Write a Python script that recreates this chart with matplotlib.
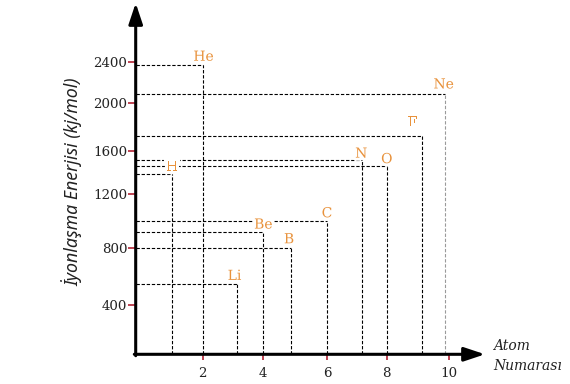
import numpy as np
import matplotlib
matplotlib.use("Agg")
import matplotlib.pyplot as plt
import matplotlib.patheffects as pe

# data
elements = ["H", "He", "Li", "Be", "B", "C", "N", "O", "F", "Ne"]
atom_pos = [1.0, 2.0, 3.12, 4.0, 4.87, 6.0, 7.18, 8.0, 9.15, 9.87]
energy = [1390, 2370, 550, 920, 800, 1000, 1520, 1460, 1720, 2080]

x_ticks = [2, 4, 6, 8, 10]
y_ticks = [400, 800, 1200, 1600, 2000, 2400]

# hand-drawn axes: tick spacing is not even, so calibrate value -> pixel
x_cal_val = [-0.19, 2, 4, 6, 8, 10, 12]
x_cal_px = [0, 66.8, 127.6, 191.3, 251, 313, 375]
y_cal_val = [0, 400, 800, 1200, 1600, 2000, 2400, 3000]
y_cal_px = [0, 49, 106, 160, 203.3, 251.6, 292.6, 354]

LABEL_COLOR = "#E8923C"
TICK_COLOR = "#B22234"
# label centre offset from the corner, in pixels
label_offsets = {"He": (1, 8), "H": (0, 7), "Li": (-2, 8), "Be": (0, 7.5),
                 "B": (-2, 9), "C": (0, 8), "N": (-1, 6), "O": (0, 7),
                 "F": (-10, 14), "Ne": (-1, 10)}


def scale_funcs(vals, pxs):
    fwd = lambda v: np.interp(v, vals, pxs)
    inv = lambda p: np.interp(p, pxs, vals)
    return fwd, inv


fig = plt.figure(figsize=(5.7, 3.84), dpi=100)
W, H = 570, 384
ax = fig.add_axes([135.7 / W, 29.7 / H, 349.3 / W, 351.3 / H])

ax.set_xscale("function", functions=scale_funcs(x_cal_val, x_cal_px))
ax.set_yscale("function", functions=scale_funcs(y_cal_val, y_cal_px))
x_left = x_cal_val[0]
ax.set_xlim(x_left, 11.17)
ax.set_ylim(0, 2973)

dash = (0, (3, 1.6))
halo = [pe.withStroke(linewidth=4.5, foreground="white")]
for el, x, y in zip(elements, atom_pos, energy):
    vcol = "#9a9a9a" if el == "Ne" else "black"
    ax.hlines(y, x_left, x, colors="black", linewidth=0.8, linestyles=dash, zorder=2)
    ax.vlines(x, 0, y, colors=vcol, linewidth=0.8, linestyles=dash, zorder=2)
    ax.annotate(el, (x, y), xytext=label_offsets[el], textcoords="offset pixels",
                ha="center", va="center", fontsize=10, family="DejaVu Serif",
                color=LABEL_COLOR, zorder=4, path_effects=halo)

for s in ["top", "right", "left", "bottom"]:
    ax.spines[s].set_visible(False)

# axis arrows
arrow_kw = dict(arrowstyle="-|>,head_length=0.9,head_width=0.3", lw=2.2,
                color="black", shrinkA=0, shrinkB=0, mutation_scale=14)
ax.annotate("", xy=(1, 0), xytext=(-0.004, 0), xycoords="axes fraction",
            arrowprops=arrow_kw, annotation_clip=False, zorder=5)
ax.annotate("", xy=(0, 1), xytext=(0, -0.004), xycoords="axes fraction",
            arrowprops=arrow_kw, annotation_clip=False, zorder=5)

ax.set_xticks(x_ticks)
ax.set_yticks(y_ticks)
ax.minorticks_off()
ax.set_xticklabels([str(t) for t in x_ticks])
ax.set_yticklabels([str(t) for t in y_ticks])
ax.tick_params(axis="both", direction="out", color=TICK_COLOR, width=1.2,
               labelsize=9.6, labelcolor="#222222")
ax.tick_params(axis="x", length=4.5, pad=5)
ax.tick_params(axis="y", length=5.5, pad=0.5)
for lab in ax.get_xticklabels() + ax.get_yticklabels():
    lab.set_family("DejaVu Serif")

fig.text(72 / W, 1 - 182 / H, "İyonlaşma Enerjisi (kj/mol)", rotation=90,
         ha="center", va="center", fontsize=12.8, style="italic",
         family="Noto Sans", color="#222222")
fig.text(493 / W, 1 - 356 / H, "Atom\nNumarası", ha="left", va="center",
         fontsize=10, style="italic", family="DejaVu Serif",
         linespacing=1.5, color="#222222")

fig.savefig("out.png", dpi=100)
